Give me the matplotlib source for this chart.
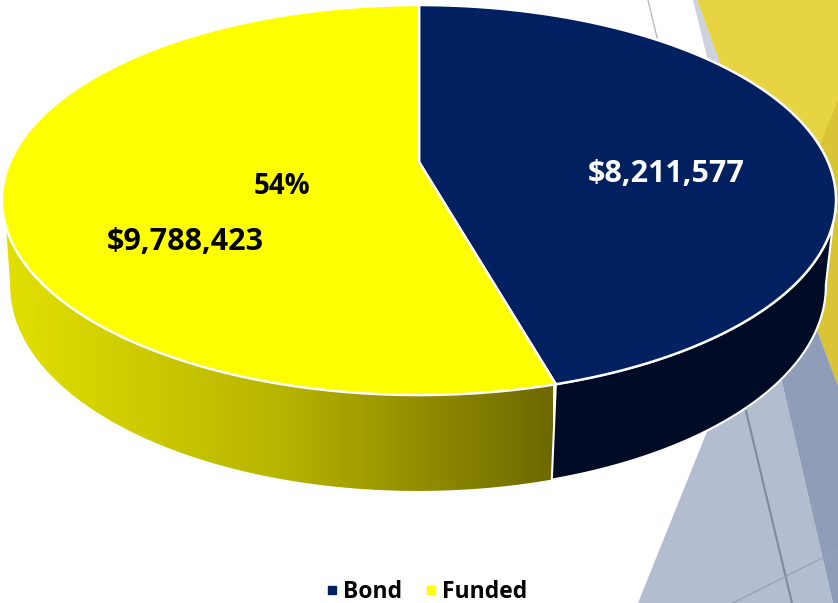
import numpy as np
import matplotlib
matplotlib.use("Agg")
import matplotlib.pyplot as plt
from matplotlib.lines import Line2D
from matplotlib.patches import Polygon
from matplotlib.colors import LinearSegmentedColormap

labels = ["Bond", "Funded"]
values = [8211577, 9788423]
money_labels = ["$8,211,577", "$9,788,423"]

NAVY = "#002060"
NAVY_SIDE = "#000c26"
YELLOW = "#ffff00"
FONT = "Open Sans"

K = -0.195  # perspective of the tilted disc


def rim(theta_deg, cx, sx, ay, by):
    # theta is clockwise from 12 o'clock, disc projected with perspective
    t = np.radians(theta_deg)
    x = np.sin(t)
    y = -np.cos(t)
    d = 1 + K * y
    return np.column_stack((cx + sx * x / d, (ay * y + by) / d))


def top_rim(theta_deg):
    return rim(theta_deg, 419, 409, 156, 162)


def bottom_rim(theta_deg):
    return rim(theta_deg, 418, 400, 149.2, 246)


fig = plt.figure(figsize=(8.38, 6.03), dpi=100)
ax = fig.add_axes([0, 0, 1, 1])

# Slide background shapes behind the chart
ax.add_patch(Polygon([(693, 0), (697, 0), (745, 130), (725, 130)], fc="#ccd2e0", ec="none", zorder=1))
ax.add_patch(Polygon([(697, 0), (838, 386), (838, 0)], fc="#e6d443", ec="none", zorder=2))
ax.add_patch(Polygon([(838, 100), (800, 195), (817, 330), (838, 386)], fc="#d9c435", ec="none", zorder=2))
ax.add_patch(Polygon([(760, 300), (638, 603), (833, 603), (782, 382)], fc="#b3bdd0", ec="none", zorder=3))
ax.add_patch(Polygon([(760, 300), (782, 382), (833, 603), (838, 603), (838, 386), (817, 330)], fc="#8f9db8", ec="none", zorder=3))
ax.plot([746, 792], [411, 603], color="#7f8a9f", lw=1.5, zorder=4)
ax.plot([733, 838], [603, 550], color="#98a3b8", lw=1, zorder=4)
ax.plot([648, 660], [0, 50], color="#bbbbbb", lw=1, zorder=4)

# Angles of the slices, Bond starts at 12 o'clock going clockwise
split = 360 * values[0] / sum(values)

# Yellow side with its gradient
top_t = np.linspace(split, 251, 200)
bot_t = np.linspace(259, split, 200)
side_pts = np.vstack((top_rim(top_t), bottom_rim(bot_t)))
side_cmap = LinearSegmentedColormap.from_list("side", ["#e2e000", "#b8b500", "#6e6900"])
grad = ax.imshow(np.linspace(0, 1, 256).reshape(1, -1), cmap=side_cmap, extent=(5, 552, 500, 150), aspect="auto", zorder=5)
grad.set_clip_path(Polygon(side_pts, transform=ax.transData))

# Navy side
top_t = np.linspace(108, split, 200)
bot_t = np.linspace(split, 101, 200)
side_pts = np.vstack((top_rim(top_t), bottom_rim(bot_t)))
ax.add_patch(Polygon(side_pts, fc=NAVY_SIDE, ec="white", lw=1.5, zorder=6))

# Top of the pie
centre = [[419, 162]]
t_bond = np.linspace(0, split, 300)
t_funded = np.linspace(split, 360, 300)
ax.add_patch(Polygon(np.vstack((centre, top_rim(t_bond))), fc=NAVY, ec="white", lw=1.8, zorder=7))
ax.add_patch(Polygon(np.vstack((centre, top_rim(t_funded))), fc=YELLOW, ec="white", lw=1.8, zorder=7))

ax.text(666, 174, money_labels[0], color="white", fontsize=22, fontweight="bold", family=FONT, ha="center", va="center", zorder=8)
ax.text(185, 242, money_labels[1], color="black", fontsize=22, fontweight="bold", family=FONT, ha="center", va="center", zorder=8)
ax.text(282, 186, f"{100 * values[1] / sum(values):.0f}%", color="black", fontsize=20, fontweight="bold", family=FONT, ha="center", va="center", zorder=8)

handles = [Line2D([], [], ls="none", marker="s", ms=6, color=c) for c in (NAVY, YELLOW)]
ax.legend(handles, labels, loc="center", bbox_to_anchor=(424 / 838, 1 - 592 / 603), ncol=2, frameon=False,
          prop={"family": FONT, "weight": "bold", "size": 16.5}, handletextpad=0.0, columnspacing=0.75,
          borderpad=0, handlelength=1.0).set_zorder(9)

ax.set_xlim(0, 838)
ax.set_ylim(603, 0)
ax.axis("off")

fig.savefig("out.png", dpi=100)
